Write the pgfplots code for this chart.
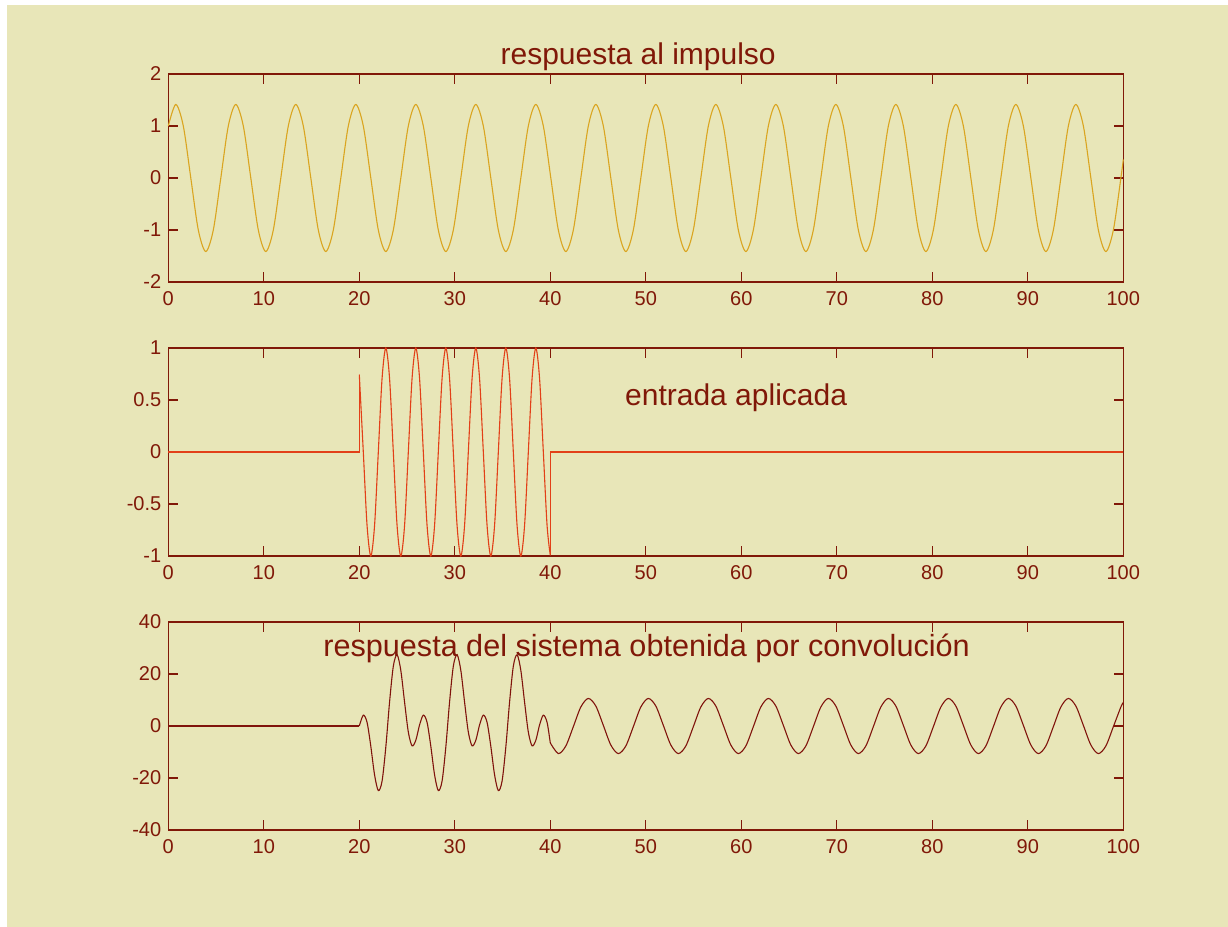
\documentclass[border=0pt]{standalone}
\usepackage{fontspec}
\setmainfont{Liberation Sans}
\usepackage{pgfplots}
\pgfplotsset{compat=1.18}
\definecolor{bgc}{RGB}{232,230,184}
\definecolor{axc}{RGB}{128,24,8}
\definecolor{c1}{RGB}{218,165,32}
\definecolor{c2}{RGB}{226,64,24}
\definecolor{c3}{RGB}{128,20,12}
\tikzset{ttl/.style={font=\fontsize{15}{18}\selectfont, text=axc, inner sep=0pt}}
\pgfplotsset{
  myax/.style={
    scale only axis, width=477.5pt, height=104pt,
    anchor=south west,
    xmin=0, xmax=100, xtick={0,10,...,100},
    tick align=inside, tick pos=both,
    major tick length=4.8pt,
    axis line style={axc, line width=0.7pt},
    every tick/.style={axc, line width=0.6pt},
    tick label style={font=\fontsize{10}{12}\selectfont, text=axc},
    xticklabel style={yshift=-1.2pt},
    /pgf/number format/assume math mode=true,
    clip=false,
  },
}
\begin{document}
\begin{tikzpicture}
\fill[white] (0,0) rectangle (614pt,463.5pt);
\fill[bgc] (3.5pt,0) rectangle (614pt,461pt);
% top
\begin{axis}[myax, at={(84.15pt,322.5pt)}, ymin=-2, ymax=2, ytick={-2,-1,0,1,2}]
\addplot[c1, line width=0.55pt, smooth] coordinates {
(0,1)(0.785,1.414)(1.571,1)(2.356,0)(3.142,-1)(3.927,-1.414)(4.712,-1)(5.498,0)
(6.283,1)(7.069,1.414)(7.854,1)(8.639,0)(9.425,-1)(10.210,-1.414)(10.996,-1)(11.781,0)
(12.566,1)(13.352,1.414)(14.137,1)(14.923,0)(15.708,-1)(16.493,-1.414)(17.279,-1)(18.064,0)
(18.850,1)(19.635,1.414)(20.420,1)(21.206,0)(21.991,-1)(22.777,-1.414)(23.562,-1)(24.347,0)
(25.133,1)(25.918,1.414)(26.704,1)(27.489,0)(28.274,-1)(29.060,-1.414)(29.845,-1)(30.631,0)
(31.416,1)(32.201,1.414)(32.987,1)(33.772,0)(34.558,-1)(35.343,-1.414)(36.128,-1)(36.914,0)
(37.699,1)(38.485,1.414)(39.270,1)(40.055,0)(40.841,-1)(41.626,-1.414)(42.412,-1)(43.197,0)
(43.982,1)(44.768,1.414)(45.553,1)(46.338,0)(47.124,-1)(47.909,-1.414)(48.695,-1)(49.480,0)
(50.265,1)(51.051,1.414)(51.836,1)(52.622,0)(53.407,-1)(54.192,-1.414)(54.978,-1)(55.763,0)
(56.549,1)(57.334,1.414)(58.119,1)(58.905,0)(59.690,-1)(60.476,-1.414)(61.261,-1)(62.046,0)
(62.832,1)(63.617,1.414)(64.403,1)(65.188,0)(65.973,-1)(66.759,-1.414)(67.544,-1)(68.330,0)
(69.115,1)(69.900,1.414)(70.686,1)(71.471,0)(72.257,-1)(73.042,-1.414)(73.827,-1)(74.613,0)
(75.398,1)(76.184,1.414)(76.969,1)(77.754,0)(78.540,-1)(79.325,-1.414)(80.111,-1)(80.896,0)
(81.681,1)(82.467,1.414)(83.252,1)(84.038,0)(84.823,-1)(85.608,-1.414)(86.394,-1)(87.179,0)
(87.965,1)(88.750,1.414)(89.535,1)(90.321,0)(91.106,-1)(91.892,-1.414)(92.677,-1)(93.462,0)
(94.248,1)(95.033,1.414)(95.819,1)(96.604,0)(97.389,-1)(98.175,-1.414)(98.960,-1)(99.746,0)
(100,0.355)};
\node[ttl, anchor=base] at (axis cs:49.2,2) [yshift=4.5pt] {respuesta al impulso};
\end{axis}
% middle
\begin{axis}[myax, at={(84.15pt,185.5pt)}, ymin=-1, ymax=1, ytick={-1,-0.5,0,0.5,1}]
\addplot[c2, line width=0.55pt] coordinates {(0,0)(20,0)(20,0.745)};
\addplot[c2, line width=0.55pt, smooth] coordinates {
(20,0.745)(20.420,0)(20.813,-0.707)(21.206,-1)(21.598,-0.707)
(21.991,0)(22.384,0.707)(22.777,1)(23.169,0.707)(23.562,0)(23.955,-0.707)(24.347,-1)(24.740,-0.707)
(25.133,0)(25.525,0.707)(25.918,1)(26.311,0.707)(26.704,0)(27.096,-0.707)(27.489,-1)(27.882,-0.707)
(28.274,0)(28.667,0.707)(29.060,1)(29.452,0.707)(29.845,0)(30.238,-0.707)(30.631,-1)(31.023,-0.707)
(31.416,0)(31.809,0.707)(32.201,1)(32.594,0.707)(32.987,0)(33.379,-0.707)(33.772,-1)(34.165,-0.707)
(34.558,0)(34.950,0.707)(35.343,1)(35.736,0.707)(36.128,0)(36.521,-0.707)(36.914,-1)(37.306,-0.707)
(37.699,0)(38.092,0.707)(38.485,1)(38.877,0.707)(39.270,0)(39.663,-0.707)(40,-0.994)};
\addplot[c2, line width=0.55pt] coordinates {(40,-0.994)(40,0)(100,0)};
\node[ttl, anchor=base west] at (axis cs:47.8,0.448) {entrada aplicada};
\end{axis}
% bottom
\begin{axis}[myax, at={(84.15pt,48.5pt)}, ymin=-40, ymax=40, ytick={-40,-20,0,20,40}]
\addplot[c3, line width=0.55pt] coordinates {(0,0)(20,0)};
\addplot[c3, line width=0.55pt, smooth] coordinates {
(20,0)(20.420,4.17)(20.813,1.40)(21.206,-7.82)(21.598,-18.79)
(21.991,-24.83)(22.384,-21.20)(22.777,-8.09)(23.169,9.19)(23.562,22.98)(23.955,27.40)(24.347,21.40)(24.740,9.20)
(25.133,-2.32)(25.525,-7.60)(25.918,-5.49)(26.311,0.41)(26.704,4.17)(27.096,1.40)(27.489,-7.82)(27.882,-18.79)
(28.274,-24.83)(28.667,-21.20)(29.060,-8.09)(29.452,9.19)(29.845,22.98)(30.238,27.40)(30.631,21.40)(31.023,9.20)
(31.416,-2.32)(31.809,-7.60)(32.201,-5.49)(32.594,0.41)(32.987,4.17)(33.379,1.40)(33.772,-7.82)(34.165,-18.79)
(34.558,-24.83)(34.950,-21.20)(35.343,-8.09)(35.736,9.19)(36.128,22.98)(36.521,27.40)(36.914,21.40)(37.306,9.20)
(37.699,-2.32)(38.092,-7.60)(38.485,-5.49)(38.877,0.41)(39.270,4.17)(39.663,1.40)(40,-6.5)};
\addplot[c3, line width=0.55pt, smooth] coordinates {
(40,-6.5)(40.841,-10.6)(41.626,-7.67)(42.412,-0.25)(43.197,7.31)
(43.982,10.6)(44.768,7.67)(45.553,0.25)(46.338,-7.31)(47.124,-10.6)(47.909,-7.67)(48.695,-0.25)(49.480,7.31)
(50.265,10.6)(51.051,7.67)(51.836,0.25)(52.622,-7.31)(53.407,-10.6)(54.192,-7.67)(54.978,-0.25)(55.763,7.31)
(56.549,10.6)(57.334,7.67)(58.119,0.25)(58.905,-7.31)(59.690,-10.6)(60.476,-7.67)(61.261,-0.25)(62.046,7.31)
(62.832,10.6)(63.617,7.67)(64.403,0.25)(65.188,-7.31)(65.973,-10.6)(66.759,-7.67)(67.544,-0.25)(68.330,7.31)
(69.115,10.6)(69.900,7.67)(70.686,0.25)(71.471,-7.31)(72.257,-10.6)(73.042,-7.67)(73.827,-0.25)(74.613,7.31)
(75.398,10.6)(76.184,7.67)(76.969,0.25)(77.754,-7.31)(78.540,-10.6)(79.325,-7.67)(80.111,-0.25)(80.896,7.31)
(81.681,10.6)(82.467,7.67)(83.252,0.25)(84.038,-7.31)(84.823,-10.6)(85.608,-7.67)(86.394,-0.25)(87.179,7.31)
(87.965,10.6)(88.750,7.67)(89.535,0.25)(90.321,-7.31)(91.106,-10.6)(91.892,-7.67)(92.677,-0.25)(93.462,7.31)
(94.248,10.6)(95.033,7.67)(95.819,0.25)(96.604,-7.31)(97.389,-10.6)(98.175,-7.67)(98.960,-0.25)(99.746,7.31)
(100,9.03)};
\node[ttl, anchor=base west, font=\fontsize{15.3}{18}\selectfont] at (axis cs:16.2,26.6) {respuesta del sistema obtenida por convolución};
\end{axis}
\pgfresetboundingbox
\useasboundingbox (0,0) rectangle (614pt,463.5pt);
\end{tikzpicture}
\end{document}
